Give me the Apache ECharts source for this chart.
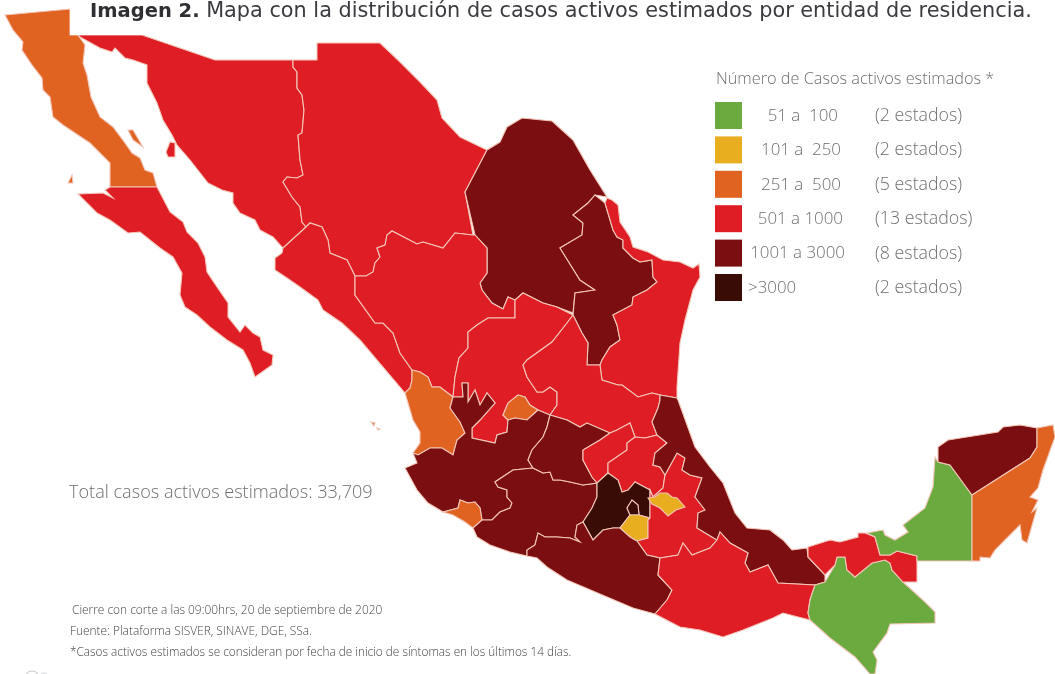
<!DOCTYPE html>
<html><head><meta charset="utf-8">
<style>html,body{margin:0;padding:0;background:#fff}#c{width:1055px;height:674px}</style>
<script src="https://cdn.jsdelivr.net/npm/echarts@6/dist/echarts.min.js"></script></head>
<body><div id="c"></div>
<script>
// Class (0..5) read for each state from the picture
const stateNames = ['Baja California','Baja California Sur','Sonora','Chihuahua','Coahuila','Nuevo León','Tamaulipas','Sinaloa','Durango','Zacatecas','San Luis Potosí','Nayarit','Aguascalientes','Jalisco','Colima','Michoacán','Guanajuato','Querétaro','Hidalgo','Estado de México','Ciudad de México','Morelos','Puebla','Tlaxcala','Veracruz','Guerrero','Oaxaca','Chiapas','Tabasco','Campeche','Yucatán','Quintana Roo'];
const stateClasses = [2,3,3,3,4,4,3,3,3,3,3,2,2,4,2,4,4,3,3,5,5,1,3,1,4,4,3,0,3,0,4,2];

const classColors = ['#6BAA3F','#E9AE1F','#E06321','#DE1D25','#7A0E10','#3A0C06'];
const legendTitle = 'Número de Casos activos estimados *';
const legendRanges = ['51 a  100','101 a  250','251 a  500','501 a 1000','1001 a 3000','>3000'];
const legendCounts = ['(2 estados)','(2 estados)','(5 estados)','(13 estados)','(8 estados)','(2 estados)'];
const titleBold = 'Imagen 2.';
const titleRest = ' Mapa con la distribución de casos activos estimados por entidad de residencia.';
const totalLabel = 'Total casos activos estimados: 33,709';
const notes = ['Cierre con corte a las 09:00hrs, 20 de septiembre de 2020','Fuente: Plataforma SISVER, SINAVE, DGE, SSa.','*Casos activos estimados se consideran por fecha de inicio de síntomas en los últimos 14 días.'];

// Traced state outlines (map geometry, in picture units)
const outlines = {
'Baja California':[[[5,15],[70,9],[70,35],[78,35],[85,45],[83,63],[87,75],[91,97],[100,117],[113,127],[125,143],[132,153],[140,158],[145,170],[153,173],[157,187],[110,187],[110,163],[90,143],[63,125],[53,117],[50,97],[43,90],[42,78],[32,65],[22,50],[23,42],[13,30]],[[128,130],[133,130],[143,147],[133,140]],[[68,183],[72,175],[73,183]]],
'Baja California Sur':[[[110,187],[157,187],[170,212],[183,222],[187,232],[198,243],[205,257],[207,272],[217,287],[228,303],[228,317],[240,332],[245,325],[253,333],[260,337],[263,350],[273,355],[272,365],[255,377],[250,363],[243,350],[227,340],[210,327],[197,315],[185,307],[180,295],[182,273],[173,257],[160,248],[140,232],[128,233],[110,220],[97,213],[78,194],[103,193],[113,198],[105,190]]],
'Sonora':[[[78,35],[142,35],[215,60],[293,60],[293,67],[297,72],[297,88],[302,95],[304,110],[302,133],[298,135],[300,160],[303,175],[297,178],[287,177],[283,182],[292,197],[300,207],[302,222],[306,227],[283,248],[273,237],[260,230],[255,220],[240,213],[233,203],[233,193],[222,190],[208,183],[190,160],[177,145],[172,135],[163,120],[157,103],[147,83],[147,65],[133,60],[125,58],[115,48],[112,52],[100,48],[80,37]],[[166,152],[170,142],[175,143],[175,157],[168,157]]],
'Chihuahua':[[[293,60],[317,60],[317,43],[380,43],[400,62],[420,82],[437,100],[442,118],[460,137],[487,150],[465,192],[473,235],[455,233],[443,248],[433,245],[423,242],[417,244],[392,231],[387,235],[385,245],[377,248],[380,257],[375,263],[373,272],[366,276],[355,276],[347,260],[330,253],[328,240],[322,227],[310,223],[306,227],[302,222],[300,207],[292,197],[283,182],[287,177],[297,178],[303,175],[300,160],[298,135],[302,133],[304,110],[302,95],[297,88],[297,72],[293,67]]],
'Coahuila':[[[487,150],[500,142],[507,127],[522,118],[552,121],[573,140],[590,170],[607,197],[595,195],[588,203],[573,215],[583,223],[582,235],[560,248],[580,280],[595,290],[575,293],[573,313],[557,307],[543,303],[523,293],[515,300],[508,297],[503,309],[492,303],[482,290],[480,283],[487,273],[487,248],[475,235],[465,192]]],
'Nuevo León':[[[595,195],[605,203],[613,230],[617,237],[623,240],[623,248],[633,258],[640,262],[652,260],[653,277],[657,282],[647,290],[633,297],[632,305],[613,315],[617,325],[620,340],[610,347],[602,360],[600,365],[587,365],[588,343],[582,333],[573,315],[575,293],[595,290],[580,280],[560,248],[582,235],[583,223],[573,215],[588,203]]],
'Tamaulipas':[[[605,203],[607,198],[612,200],[618,205],[620,222],[630,237],[633,247],[648,252],[663,260],[680,262],[693,268],[699,264],[700,277],[693,290],[685,320],[680,343],[677,387],[677,398],[660,395],[652,393],[638,397],[622,385],[618,385],[602,380],[600,365],[602,360],[610,347],[620,340],[617,325],[613,315],[632,305],[633,297],[647,290],[657,282],[653,277],[652,260],[640,262],[633,258],[623,248],[623,240],[617,237],[613,230]]],
'Sinaloa':[[[283,248],[306,227],[310,223],[322,227],[328,240],[330,253],[347,260],[355,276],[355,295],[375,323],[383,323],[393,333],[400,353],[412,370],[412,380],[410,388],[405,393],[360,340],[342,323],[323,310],[318,300],[300,287],[287,278],[275,270],[275,258],[282,253]]],
'Durango':[[[355,276],[366,276],[373,272],[375,263],[380,257],[377,248],[385,245],[387,235],[392,231],[417,244],[423,242],[433,245],[443,248],[455,233],[473,235],[475,235],[487,248],[487,273],[480,283],[482,290],[492,303],[503,309],[508,297],[515,300],[515,318],[488,318],[477,325],[468,332],[468,348],[459,358],[455,377],[453,397],[440,387],[432,387],[428,377],[420,372],[412,370],[400,353],[393,333],[383,323],[375,323],[355,295]]],
'Zacatecas':[[[515,318],[515,300],[523,293],[543,303],[557,307],[573,315],[567,323],[552,342],[527,360],[523,365],[527,377],[537,392],[543,392],[550,387],[557,392],[557,405],[550,415],[538,410],[530,405],[525,397],[518,395],[508,403],[503,415],[508,420],[507,432],[497,435],[495,443],[472,438],[472,428],[480,420],[495,403],[487,393],[480,405],[475,390],[468,402],[468,383],[462,383],[463,397],[453,397],[455,377],[459,358],[468,348],[468,332],[477,325],[488,318]]],
'San Luis Potosí':[[[573,315],[582,333],[588,343],[587,365],[600,365],[602,380],[618,385],[622,385],[638,397],[652,393],[660,395],[660,400],[658,408],[652,422],[657,435],[645,438],[635,437],[630,423],[617,430],[610,433],[587,423],[580,427],[567,420],[550,415],[557,405],[557,392],[550,387],[543,392],[537,392],[527,377],[523,365],[527,360],[552,342],[567,323]]],
'Nayarit':[[[412,370],[420,372],[428,377],[432,387],[440,387],[453,397],[450,408],[460,422],[465,433],[457,440],[453,455],[442,448],[430,448],[418,455],[413,453],[420,443],[420,432],[413,420],[405,393],[410,388],[412,380]],[[371,422],[375,423],[374,426]],[[377,428],[380,429],[378,430]]],
'Aguascalientes':[[[503,415],[508,403],[518,395],[525,397],[530,405],[538,410],[527,420],[515,418],[508,420]]],
'Jalisco':[[[453,397],[463,397],[462,383],[468,383],[468,402],[475,390],[480,405],[487,393],[495,403],[480,420],[472,428],[472,438],[495,443],[497,435],[507,432],[508,420],[515,418],[527,420],[538,410],[550,415],[547,427],[543,437],[532,450],[528,460],[533,468],[513,470],[495,482],[498,487],[507,490],[507,497],[512,503],[510,508],[500,512],[492,520],[482,520],[480,508],[475,502],[468,503],[460,500],[458,508],[443,512],[428,503],[417,490],[405,468],[417,463],[413,453],[418,455],[430,448],[442,448],[453,455],[457,440],[465,433],[460,422],[450,408]]],
'Colima':[[[443,512],[458,508],[460,500],[468,503],[475,502],[480,508],[482,520],[473,528],[465,522],[453,515]]],
'Michoacán':[[[533,468],[543,473],[550,472],[553,480],[560,480],[570,482],[583,485],[597,483],[597,497],[592,508],[583,522],[577,525],[575,537],[580,542],[570,538],[557,537],[545,537],[538,533],[535,545],[527,550],[527,556],[510,552],[490,545],[477,537],[473,528],[482,520],[492,520],[500,512],[510,508],[512,503],[507,497],[507,490],[498,487],[495,482],[513,470]]],
'Guanajuato':[[[550,415],[567,420],[580,427],[587,423],[610,433],[600,440],[583,450],[583,460],[592,477],[597,483],[583,485],[570,482],[560,480],[553,480],[550,472],[543,473],[533,468],[528,460],[532,450],[543,437],[547,427]]],
'Querétaro':[[[610,433],[617,430],[630,423],[635,437],[627,443],[627,450],[608,463],[608,473],[597,483],[592,477],[583,460],[583,450],[600,440]]],
'Hidalgo':[[[608,473],[608,463],[627,450],[627,443],[635,437],[645,438],[657,435],[667,443],[655,453],[653,465],[660,467],[665,475],[663,488],[653,497],[650,490],[635,482],[628,490],[622,492],[618,480]]],
'Estado de México':[[[583,522],[592,508],[597,497],[597,483],[608,473],[618,480],[622,492],[628,490],[635,482],[650,490],[650,518],[639,515],[638,505],[632,500],[627,508],[630,515],[620,528],[613,528],[603,530],[593,540]]],
'Ciudad de México':[[[627,508],[632,500],[638,505],[639,515],[630,515]]],
'Morelos':[[[630,515],[639,515],[650,518],[648,520],[648,538],[637,541],[630,537],[620,528]]],
'Puebla':[[[653,497],[663,488],[665,475],[677,453],[685,458],[682,470],[690,475],[702,478],[695,497],[705,510],[698,513],[697,528],[712,537],[717,540],[710,548],[692,555],[683,543],[678,555],[660,558],[647,555],[637,541],[648,538],[648,520],[650,518],[650,490]]],
'Tlaxcala':[[[648,498],[655,497],[660,493],[667,493],[672,497],[677,498],[685,507],[676,510],[668,516],[660,508],[652,504]]],
'Veracruz':[[[660,395],[677,398],[678,400],[695,447],[710,467],[723,483],[735,513],[747,528],[770,530],[783,540],[792,550],[807,548],[808,557],[825,575],[825,582],[815,585],[778,583],[768,565],[750,572],[745,563],[748,553],[730,543],[720,532],[717,540],[712,537],[697,528],[698,513],[705,510],[695,497],[702,478],[690,475],[682,470],[685,458],[677,453],[665,475],[660,467],[653,465],[655,453],[667,443],[657,435],[652,422],[658,408],[660,400]]],
'Guerrero':[[[527,556],[527,550],[535,545],[538,533],[545,537],[557,537],[570,538],[580,542],[575,537],[577,525],[583,522],[593,540],[603,530],[613,528],[620,528],[630,537],[637,541],[647,555],[660,558],[658,575],[672,590],[667,600],[655,614],[633,608],[607,597],[567,580],[547,567],[537,558]]],
'Oaxaca':[[[660,558],[678,555],[683,543],[692,555],[710,548],[717,540],[720,532],[730,543],[748,553],[745,563],[750,572],[768,565],[778,583],[815,585],[810,600],[808,613],[810,620],[798,617],[783,613],[773,618],[743,630],[723,637],[700,630],[680,627],[655,614],[667,600],[672,590],[658,575]]],
'Chiapas':[[[815,585],[825,582],[835,565],[837,557],[845,557],[847,570],[855,577],[872,563],[885,560],[890,563],[892,570],[903,582],[925,602],[935,612],[935,623],[890,624],[887,633],[873,652],[877,660],[875,674],[870,674],[855,657],[830,638],[810,620],[808,613],[810,600]]],
'Tabasco':[[[808,547],[830,540],[840,542],[858,537],[858,533],[865,533],[875,537],[880,555],[890,555],[897,551],[917,556],[917,582],[903,582],[892,570],[890,563],[885,560],[872,563],[855,577],[847,570],[845,557],[837,557],[835,565],[825,575],[808,557]]],
'Campeche':[[[867,533],[883,530],[885,535],[895,540],[908,532],[903,525],[925,508],[933,487],[935,457],[938,462],[950,465],[972,495],[972,561],[917,561],[917,556],[897,551],[890,555],[880,555],[875,537]]],
'Yucatán':[[[938,462],[938,447],[948,440],[998,432],[1003,427],[1020,425],[1037,428],[1037,447],[1030,458],[972,495],[950,465]]],
'Quintana Roo':[[[1037,428],[1053,425],[1055,437],[1043,470],[1038,488],[1030,497],[1038,500],[1032,512],[1037,508],[1027,543],[1022,540],[1020,525],[1012,533],[995,550],[990,558],[980,557],[980,561],[972,561],[972,495],[1030,458],[1037,447]]]
};

const geojson = {type:'FeatureCollection',features:stateNames.map(n=>({type:'Feature',properties:{name:n},
  geometry:{type:'MultiPolygon',coordinates:outlines[n].map(r=>{const ring=r.map(p=>[p[0],-p[1]]);ring.push(ring[0]);return [ring];})}}))};
echarts.registerMap('mx',geojson);

const chart = echarts.init(document.getElementById('c'),null,{renderer:'canvas'});
const textColor='#6e6e6e';
const uiFont='"Open Sans","Noto Sans",sans-serif';
const rangeRight=[838,841,841,843,845,748];
const legendEls=[];
legendEls.push({type:'text',x:716,y:79,style:{text:legendTitle,font:'300 16.3px '+uiFont,fill:textColor,verticalAlign:'middle'}});
legendRanges.forEach((t,i)=>{
  const y=102+i*34.4;
  legendEls.push({type:'rect',shape:{x:715,y:y,width:27,height:27},style:{fill:classColors[i]}});
  legendEls.push({type:'text',x:rangeRight[i],y:y+14,style:{text:t,font:'300 16.9px '+uiFont,fill:textColor,align:i==5?'left':'right',verticalAlign:'middle'}});
  legendEls.push({type:'text',x:875,y:y+14,style:{text:legendCounts[i],font:'300 17.8px '+uiFont,fill:textColor,align:'left',verticalAlign:'middle'}});
});
chart.setOption({
  animation:false,
  backgroundColor:'#fff',
  series:[{type:'map',map:'mx',silent:true,left:0,top:0,width:1055,height:674,aspectScale:1,
    boundingCoords:[[0,0],[1055,-674]],roam:false,label:{show:false},
    itemStyle:{borderColor:'#F2C6B8',borderWidth:1.1},
    data:stateNames.map((n,i)=>({name:n,value:stateClasses[i],itemStyle:{areaColor:classColors[stateClasses[i]]}}))}],
  graphic:{elements:[
    {type:'rect',z:50,shape:{x:70,y:0,width:985,height:35},style:{fill:'#fff'}},
    {type:'text',z:51,x:90,y:1,style:{text:'{b|'+titleBold+'}{r|'+titleRest+'}',rich:{
      b:{font:'700 19.5px "DejaVu Sans",sans-serif',fill:'#2e2e33'},
      r:{font:'400 20.8px "DejaVu Sans",sans-serif',fill:'#3a3a3f'}}}},
    ...legendEls,
    {type:'text',x:69,y:493,style:{text:totalLabel,font:'300 18.1px '+uiFont,fill:textColor,verticalAlign:'middle'}},
    {type:'text',x:72,y:611,style:{text:notes[0],font:'300 11.9px '+uiFont,fill:'#444',verticalAlign:'middle'}},
    {type:'text',x:70,y:632,style:{text:notes[1],font:'300 11.9px '+uiFont,fill:'#444',verticalAlign:'middle'}},
    {type:'text',x:70,y:653,style:{text:notes[2],font:'300 11.8px '+uiFont,fill:'#444',verticalAlign:'middle'}},
    {type:'circle',shape:{cx:32,cy:678,r:7},style:{fill:'none',stroke:'#c9ccd0',lineWidth:1.2}},
    {type:'circle',shape:{cx:44,cy:678,r:5},style:{fill:'none',stroke:'#d6d8da',lineWidth:1}}
  ]}
});
</script></body></html>
